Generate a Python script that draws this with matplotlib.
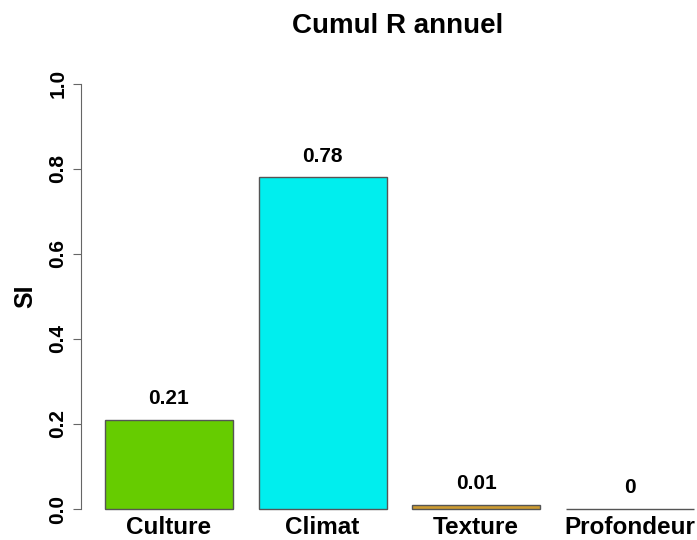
import matplotlib
matplotlib.use("Agg")
import matplotlib.pyplot as plt

plt.rcParams["font.family"] = ["Liberation Sans", "DejaVu Sans"]

categories = ["Culture", "Climat", "Texture", "Profondeur"]
si_values = [0.21, 0.78, 0.01, 0.0]
bar_labels = ["0.21", "0.78", "0.01", "0"]
colors = ["#66CC00", "#00EEEE", "#CD9B30", "#FFFFFF"]

fig = plt.figure(figsize=(6.97, 5.40), dpi=100)
# R-style plot region (runs past the right edge, like the original crop)
ax = fig.add_axes([0.1168, 0.0259, 0.9125, 0.8502])

width = 1.0
space = 0.2
lefts = [space + i * (width + space) for i in range(len(categories))]
centers = [l + width / 2 for l in lefts]

ax.bar(centers, si_values, width=width, color=colors, edgecolor="#555555", linewidth=1.0)
for x, v, lab in zip(centers, si_values, bar_labels):
    ax.text(x, v + 0.05, lab, ha="center", va="center", fontsize=15, fontweight="bold")

ax.set_xlim(0.016, 4.984)
ax.set_ylim(-0.04, 1.04)

for s in ["top", "right", "bottom"]:
    ax.spines[s].set_visible(False)
ax.spines["left"].set_bounds(0, 1)
ax.spines["left"].set_color("#666666")

ax.set_yticks([0.0, 0.2, 0.4, 0.6, 0.8, 1.0])
ax.set_yticklabels(["0.0", "0.2", "0.4", "0.6", "0.8", "1.0"], rotation=90,
                   va="center", fontsize=15, fontweight="bold")
ax.tick_params(axis="y", length=6, color="#666666", pad=4)

ax.set_xticks(centers)
ax.set_xticklabels(categories, fontsize=17.5, fontweight="bold")
ax.tick_params(axis="x", length=0, pad=-7)

ax.set_ylabel("SI", fontsize=18, fontweight="bold", labelpad=8)
fig.text(0.571, 0.952, "Cumul R annuel", ha="center", va="center", fontsize=20, fontweight="bold")

fig.savefig("out.png", dpi=100, facecolor="white")
